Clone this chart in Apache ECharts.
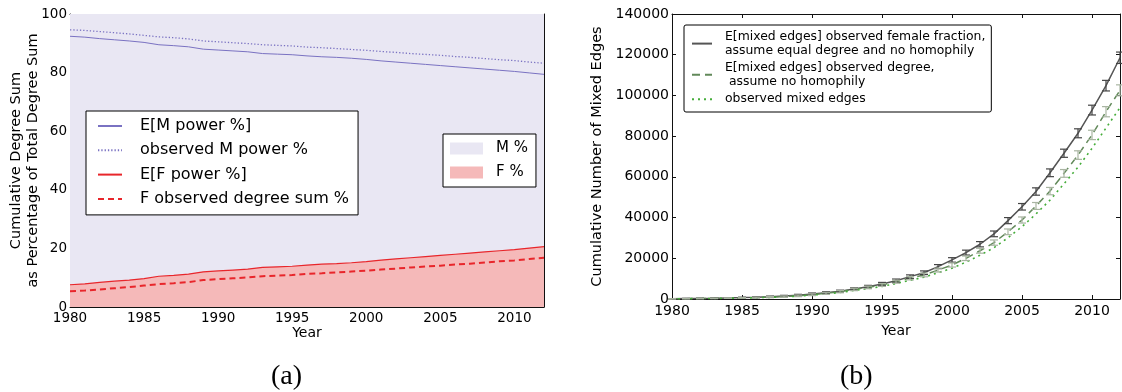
<!DOCTYPE html>
<html>
<head>
<meta charset="utf-8">
<script src="https://cdn.jsdelivr.net/npm/echarts@6/dist/echarts.min.js"></script>
<style>
html,body{margin:0;padding:0;background:#fff;}
#chart{width:1122px;height:392px;}
</style>
</head>
<body>
<div id="chart"></div>
<script>
// ---------- data ----------
const years = [1980,1981,1982,1983,1984,1985,1986,1987,1988,1989,1990,1991,1992,1993,1994,1995,1996,1997,1998,1999,2000,2001,2002,2003,2004,2005,2006,2007,2008,2009,2010,2011,2012];

// panel (a): percentages
const eMPower   = [92.4,92.1,91.6,91.2,90.8,90.3,89.5,89.2,88.8,88.0,87.7,87.4,87.1,86.5,86.3,86.1,85.7,85.4,85.2,84.9,84.5,84.0,83.6,83.2,82.8,82.4,82.0,81.6,81.2,80.8,80.4,79.9,79.4];
const obsMPower = [94.6,94.4,94.0,93.6,93.2,92.7,92.2,91.9,91.5,90.8,90.5,90.2,89.9,89.5,89.3,89.1,88.7,88.5,88.2,87.9,87.6,87.2,86.9,86.5,86.2,85.9,85.5,85.2,84.8,84.4,84.1,83.6,83.2];
const eFPower   = [7.6,7.9,8.4,8.8,9.2,9.7,10.5,10.8,11.2,12.0,12.3,12.6,12.9,13.5,13.7,13.9,14.3,14.6,14.8,15.1,15.5,16.0,16.4,16.8,17.2,17.6,18.0,18.4,18.8,19.2,19.6,20.1,20.6];
const obsFDegree= [5.4,5.6,6.0,6.4,6.8,7.3,7.8,8.1,8.5,9.2,9.5,9.8,10.1,10.5,10.7,10.9,11.3,11.5,11.8,12.1,12.4,12.8,13.1,13.5,13.8,14.1,14.5,14.8,15.2,15.6,15.9,16.4,16.8];
const mShareYears  = [1980, 2012];
const mShareValues = [100, 100];

// panel (b): cumulative mixed edges
const mixedExpFemale    = [100,200,300,400,550,700,900,1150,1450,1900,2500,3100,3800,4900,6000,7400,9000,11000,12900,15900,19200,22800,26900,32000,38500,45300,52800,62000,71600,81400,92800,104800,118500];
const mixedExpFemaleErr = [100,100,100,150,150,200,250,300,350,400,450,500,550,600,700,750,800,850,900,1000,1100,1200,1300,1400,1500,1600,1800,1900,2000,2200,2400,2600,2800];
const mixedExpDegree    = [80,150,230,320,440,560,720,920,1170,1550,2100,2800,3600,4700,5700,6900,8500,10200,11800,14200,16700,20000,23700,27700,33000,38800,45700,53000,61700,70700,80600,92000,102500];
const mixedExpDegreeErr = [100,100,100,150,150,200,250,300,350,400,450,500,550,600,650,700,750,800,900,950,1000,1100,1200,1300,1400,1500,1700,1800,1900,2100,2300,2500,2700];
const mixedObserved     = [70,130,200,280,390,500,640,820,1050,1400,1900,2500,3200,4200,5100,6200,7600,9200,10700,12900,15100,18100,21500,25200,30100,35500,41800,48600,56600,64800,74000,84000,94000];

// labels
const nameEM = 'E[M power %]';
const nameOM = 'observed M power %';
const nameEF = 'E[F power %]';
const nameOF = 'F observed degree sum %';
const nameMArea = 'M %';
const nameFArea = 'F %';
const nameB1 = 'E[mixed edges] observed female fraction,\nassume equal degree and no homophily';
const nameB2 = 'E[mixed edges] observed degree,\n assume no homophily';
const nameB3 = 'observed mixed edges';

// ---------- helpers ----------
const pair = (xs, ys) => xs.map((x, i) => [x, ys[i]]);
const triple = (xs, ys, es) => xs.map((x, i) => [x, ys[i], es[i]]);
const FONT = 'DejaVu Sans';
const SPINE = '#111';
const plain = v => String(v);

function xAxes(gridIndex, labelMargin, nameGap, fs) {
  return [
    { type:'value', gridIndex, min:1980, max:2012, interval:5, position:'bottom',
      name:'Year', nameLocation:'middle', nameGap, nameMoveOverlap:false,
      nameTextStyle:{fontFamily:FONT, fontSize:14, color:'#000'},
      axisLine:{show:true, onZero:false, lineStyle:{color:SPINE, width:1}},
      axisTick:{show:true, inside:true, length:4, lineStyle:{color:SPINE}},
      axisLabel:{fontFamily:FONT, fontSize:fs, color:'#000', margin:labelMargin, showMaxLabel:false, formatter:plain},
      splitLine:{show:false} },
    { type:'value', gridIndex, min:1980, max:2012, interval:5, position:'top',
      axisLine:{show:true, onZero:false, lineStyle:{color:SPINE, width:1}},
      axisTick:{show:true, inside:true, length:4, lineStyle:{color:SPINE}},
      axisLabel:{show:false}, splitLine:{show:false} }
  ];
}
function yAxes(gridIndex, max, interval, name, nameGap, fs) {
  return [
    { type:'value', gridIndex, min:0, max, interval, position:'left',
      name, nameLocation:'middle', nameGap, nameMoveOverlap:false,
      nameTextStyle:{fontFamily:FONT, fontSize:14.5, color:'#000', lineHeight:17},
      axisLine:{show:true, onZero:false, lineStyle:{color:SPINE, width:1}},
      axisTick:{show:true, inside:true, length:4, lineStyle:{color:SPINE}},
      axisLabel:{fontFamily:FONT, fontSize:fs, color:'#000', margin:3, formatter:plain},
      splitLine:{show:false} },
    { type:'value', gridIndex, min:0, max, interval, position:'right',
      axisLine:{show:true, onZero:false, lineStyle:{color:SPINE, width:1}},
      axisTick:{show:true, inside:true, length:4, lineStyle:{color:SPINE}},
      axisLabel:{show:false}, splitLine:{show:false} }
  ];
}

function errorBarSeries(name, data, color, xi, yi) {
  return {
    type:'custom', name, xAxisIndex:xi, yAxisIndex:yi, z:5, silent:true,
    data,
    renderItem(params, api) {
      const x = api.value(0), y = api.value(1), e = api.value(2);
      const lo = api.coord([x, y - e]);
      const hi = api.coord([x, y + e]);
      const hw = 4;
      const st = {stroke:color, lineWidth:1.2};
      return { type:'group', children:[
        {type:'line', shape:{x1:lo[0], y1:lo[1], x2:hi[0], y2:hi[1]}, style:st},
        {type:'line', shape:{x1:lo[0]-hw, y1:lo[1], x2:lo[0]+hw, y2:lo[1]}, style:st},
        {type:'line', shape:{x1:hi[0]-hw, y1:hi[1], x2:hi[0]+hw, y2:hi[1]}, style:st}
      ]};
    }
  };
}

const M_FILL = '#e9e7f3';
const F_FILL = '#f5b9b9';
const M_LINE = '#7a72c2';
const F_LINE = '#e8262b';
const B_SOLID = '#555555';
const B_DASH = '#62895a';
const B_DASH_ERR = '#a9b5a2';
const B_DOT = '#45ad3a';

const noSymbol = {opacity:0, borderWidth:0};

const option = {
  animation:false,
  backgroundColor:'#fff',
  grid:[
    {left:70, top:14, width:474, height:293},
    {left:672, top:14, width:448, height:285}
  ],
  xAxis:[...xAxes(0, 4, 19, 13.5), ...xAxes(1, 5, 25, 14)],
  yAxis:[
    ...yAxes(0, 100, 20, 'Cumulative Degree Sum\nas Percentage of Total Degree Sum', 28, 13.5),
    ...yAxes(1, 140000, 20000, 'Cumulative Number of Mixed Edges', 66, 14)
  ],
  legend:[
    { left:86, top:111, orient:'vertical', itemWidth:24, itemHeight:14, itemGap:8.3,
      padding:[7,9,8,11], backgroundColor:'#fff', borderColor:'#000', borderWidth:1, borderRadius:0,
      selectedMode:false, itemStyle:noSymbol,
      textStyle:{fontFamily:FONT, fontSize:16, color:'#000', lineHeight:15, padding:[0,0,0,13]},
      data:[nameEM, nameOM, nameEF, nameOF] },
    { left:443, top:134, orient:'vertical', itemWidth:33, itemHeight:12, itemGap:9,
      padding:[7,8,7,7], backgroundColor:'#fff', borderColor:'#000', borderWidth:1, borderRadius:0,
      selectedMode:false,
      textStyle:{fontFamily:FONT, fontSize:15, color:'#000', lineHeight:15, padding:[0,0,0,8]},
      data:[
        {name:nameMArea, icon:'rect', itemStyle:{color:M_FILL, borderWidth:0}},
        {name:nameFArea, icon:'rect', itemStyle:{color:F_FILL, borderWidth:0}}
      ] },
    { left:684, top:25, orient:'vertical', itemWidth:20, itemHeight:12, itemGap:4,
      padding:[5,6,6,7], backgroundColor:'#fff', borderColor:'#000', borderWidth:1, borderRadius:2,
      selectedMode:false, itemStyle:noSymbol,
      textStyle:{fontFamily:FONT, fontSize:12.4, color:'#000', lineHeight:13.6, padding:[0,0,0,8]},
      data:[nameB1, nameB2, nameB3] }
  ],
  graphic:[
    {type:'text', left:271, top:363, style:{text:'(a)', fontFamily:'Liberation Serif', fontSize:28, fill:'#000'}},
    {type:'text', left:840, top:363, style:{text:'(b)', fontFamily:'Liberation Serif', fontSize:28, fill:'#000'}}
  ],
  series:[
    { type:'line', name:nameMArea, xAxisIndex:0, yAxisIndex:0, data:pair(mShareYears, mShareValues),
      showSymbol:false, symbol:'none', z:1, silent:true,
      lineStyle:{width:0, color:M_FILL}, itemStyle:{color:M_FILL}, areaStyle:{color:M_FILL, opacity:1} },
    { type:'line', name:nameFArea, xAxisIndex:0, yAxisIndex:0, data:pair(years, eFPower),
      showSymbol:false, symbol:'none', z:2, silent:true,
      lineStyle:{width:0, color:F_FILL}, itemStyle:{color:F_FILL}, areaStyle:{color:F_FILL, opacity:1} },
    { type:'line', name:nameEM, xAxisIndex:0, yAxisIndex:0, data:pair(years, eMPower),
      symbol:'none', z:3, lineStyle:{width:1, color:M_LINE}, itemStyle:{color:M_LINE} },
    { type:'line', name:nameOM, xAxisIndex:0, yAxisIndex:0, data:pair(years, obsMPower),
      symbol:'none', z:3, lineStyle:{width:1.3, color:M_LINE, type:[1.3,2]}, itemStyle:{color:M_LINE} },
    { type:'line', name:nameEF, xAxisIndex:0, yAxisIndex:0, data:pair(years, eFPower),
      symbol:'none', z:3, lineStyle:{width:1.2, color:F_LINE}, itemStyle:{color:F_LINE} },
    { type:'line', name:nameOF, xAxisIndex:0, yAxisIndex:0, data:pair(years, obsFDegree),
      symbol:'none', z:3, lineStyle:{width:2, color:F_LINE, type:[6,4]}, itemStyle:{color:F_LINE} },

    { type:'line', name:nameB1, xAxisIndex:2, yAxisIndex:2, data:pair(years, mixedExpFemale),
      symbol:'none', z:4, lineStyle:{width:1.5, color:B_SOLID}, itemStyle:{color:B_SOLID} },
    { type:'line', name:nameB2, xAxisIndex:2, yAxisIndex:2, data:pair(years, mixedExpDegree),
      symbol:'none', z:4, lineStyle:{width:1.5, color:B_DASH, type:[8,5]}, itemStyle:{color:B_DASH} },
    { type:'line', name:nameB3, xAxisIndex:2, yAxisIndex:2, data:pair(years, mixedObserved),
      symbol:'none', z:4, lineStyle:{width:1.6, color:B_DOT, type:[2,4]}, itemStyle:{color:B_DOT} },
    errorBarSeries('errB1', triple(years, mixedExpFemale, mixedExpFemaleErr), '#444', 2, 2),
    errorBarSeries('errB2', triple(years, mixedExpDegree, mixedExpDegreeErr), B_DASH_ERR, 2, 2)
  ]
};

const chart = echarts.init(document.getElementById('chart'), null, {renderer:'canvas'});
chart.setOption(option);
</script>
</body>
</html>
